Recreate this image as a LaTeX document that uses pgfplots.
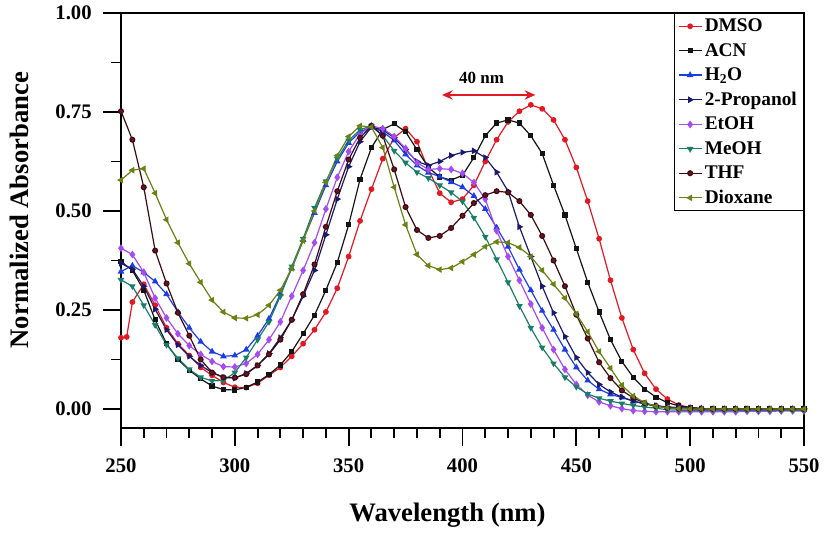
\documentclass[border=0pt]{standalone}
\usepackage{fontspec}
\setmainfont{Liberation Serif}
\usepackage{pgfplots}
\pgfplotsset{compat=1.18}
\usetikzlibrary{arrows.meta}
\definecolor{cDMSO}{RGB}{225,25,35}
\definecolor{cACN}{RGB}{20,20,20}
\definecolor{cH2O}{RGB}{30,60,230}
\definecolor{cPro}{RGB}{25,25,110}
\definecolor{cEtOH}{RGB}{165,75,240}
\definecolor{cMeOH}{RGB}{25,125,105}
\definecolor{cTHF}{RGB}{60,10,18}
\definecolor{cTHFm}{RGB}{110,20,30}
\definecolor{cDiox}{RGB}{105,130,20}
\begin{document}
\begin{tikzpicture}
\begin{axis}[
 scale only axis, width=512.25pt, height=311.25pt,
 xmin=250, xmax=550, ymin=-0.048, ymax=1.0,
 xtick={250,300,...,550}, ytick={0,0.25,0.5,0.75,1},
 minor x tick num=4, minor y tick num=1,
 xtick pos=left, ytick pos=left,
 tick align=outside,
 major tick length=13.5pt, minor tick length=7.5pt,
 tick style={black, line width=1.4pt},
 axis line style={line width=1.2pt},
 /pgf/number format/assume math mode=true,
 ticklabel style={font=\bfseries\fontsize{15.5}{18}\selectfont},
 xticklabel shift=6pt, yticklabel shift=5pt,
 yticklabel style={/pgf/number format/fixed, /pgf/number format/fixed zerofill, /pgf/number format/precision=2},
 xticklabel style={/pgf/number format/1000 sep={}},
 xlabel={Wavelength (nm)}, ylabel={Normalized Absorbance},
 label style={font=\bfseries\fontsize{20}{24}\selectfont},
 xlabel style={at={(axis description cs:0.478,-0.2096)}, anchor=center},
 ylabel style={at={(axis description cs:-0.1493,0.525)}, anchor=center},
 legend style={at={(1,1)}, anchor=north east, draw=black, line width=0.8pt,
   font=\bfseries\fontsize{14.5}{17}\selectfont, legend cell align=left, row sep=3.2pt},
 every axis plot/.append style={line width=0.9pt},
]
\addplot[color=cDMSO, mark=*, mark size=1.7pt, mark options={solid}] coordinates {
(250,0.18)(252.5,0.182)(255,0.27)(260,0.315)(265,0.262)(270,0.205)(275,0.165)(280,0.135)(285,0.105)(290,0.085)(295,0.067)(300,0.055)(305,0.054)(310,0.065)(315,0.085)(320,0.105)(325,0.133)(330,0.165)(335,0.20)(340,0.245)(345,0.305)(350,0.385)(355,0.475)(360,0.555)(365,0.632)(370,0.685)(375,0.708)(380,0.675)(385,0.605)(390,0.545)(395,0.522)(400,0.53)(405,0.565)(410,0.625)(415,0.68)(420,0.725)(425,0.752)(430,0.768)(435,0.758)(440,0.73)(445,0.68)(450,0.61)(455,0.525)(460,0.43)(465,0.325)(470,0.23)(475,0.15)(480,0.09)(485,0.05)(490,0.025)(495,0.01)(500,0.004)(505,0.001)(510,0)(515,0)(520,0)(525,0)(530,0)(535,0)(540,0)(545,0)(550,0)};
\addlegendentry{DMSO}
\addplot[color=cACN, mark=square*, mark size=1.5pt, mark options={solid}] coordinates {
(250,0.372)(255,0.35)(260,0.30)(265,0.225)(270,0.165)(275,0.125)(280,0.098)(285,0.076)(290,0.058)(295,0.049)(300,0.048)(305,0.055)(310,0.068)(315,0.087)(320,0.111)(325,0.145)(330,0.19)(335,0.237)(340,0.30)(345,0.37)(350,0.465)(355,0.58)(360,0.66)(365,0.706)(370,0.72)(375,0.70)(380,0.655)(385,0.61)(390,0.586)(395,0.578)(400,0.59)(405,0.635)(410,0.69)(415,0.722)(420,0.73)(425,0.722)(430,0.69)(435,0.645)(440,0.565)(445,0.49)(450,0.405)(455,0.32)(460,0.245)(465,0.175)(470,0.12)(475,0.08)(480,0.05)(485,0.03)(490,0.016)(495,0.008)(500,0.004)(505,0.001)(510,0)(515,0)(520,0)(525,0)(530,0)(535,0)(540,0)(545,0)(550,0)};
\addlegendentry{ACN}
\addplot[color=cH2O, mark=triangle*, mark size=2pt, mark options={solid}] coordinates {
(250,0.347)(255,0.362)(260,0.345)(265,0.322)(270,0.29)(275,0.245)(280,0.205)(285,0.17)(290,0.145)(295,0.133)(300,0.135)(305,0.15)(310,0.185)(315,0.228)(320,0.29)(325,0.355)(330,0.427)(335,0.495)(340,0.565)(345,0.625)(350,0.672)(355,0.70)(360,0.712)(365,0.70)(370,0.678)(375,0.643)(380,0.615)(385,0.597)(390,0.587)(395,0.573)(400,0.56)(405,0.538)(410,0.505)(415,0.458)(420,0.41)(425,0.352)(430,0.30)(435,0.248)(440,0.2)(445,0.15)(450,0.105)(455,0.072)(460,0.05)(465,0.037)(470,0.029)(475,0.02)(480,0.013)(485,0.008)(490,0.005)(495,0.003)(500,0.002)(505,0.001)(510,0)(515,0)(520,0)(525,0)(530,0)(535,0)(540,0)(545,0)(550,0)};
\addlegendentry{H\textsubscript{2}O}
\addplot[color=cPro, mark=triangle*, mark size=2pt, mark options={solid,rotate=-90}] coordinates {
(250,0.368)(255,0.353)(260,0.31)(265,0.252)(270,0.2)(275,0.162)(280,0.133)(285,0.11)(290,0.092)(295,0.08)(300,0.078)(305,0.09)(310,0.11)(315,0.14)(320,0.18)(325,0.225)(330,0.285)(335,0.35)(340,0.44)(345,0.53)(350,0.612)(355,0.675)(360,0.712)(365,0.705)(370,0.685)(375,0.655)(380,0.625)(385,0.615)(390,0.625)(395,0.64)(400,0.648)(405,0.652)(410,0.635)(415,0.598)(420,0.55)(425,0.46)(430,0.385)(435,0.31)(440,0.243)(445,0.183)(450,0.13)(455,0.092)(460,0.062)(465,0.043)(470,0.03)(475,0.02)(480,0.013)(485,0.008)(490,0.005)(495,0.003)(500,0.002)(505,0.001)(510,0)(515,0)(520,0)(525,0)(530,0)(535,0)(540,0)(545,0)(550,0)};
\addlegendentry{2-Propanol}
\addplot[color=cEtOH, mark=diamond*, mark size=2.2pt, mark options={solid}] coordinates {
(250,0.406)(255,0.39)(260,0.345)(265,0.28)(270,0.23)(275,0.19)(280,0.16)(285,0.138)(290,0.12)(295,0.107)(300,0.106)(305,0.115)(310,0.138)(315,0.175)(320,0.22)(325,0.285)(330,0.35)(335,0.42)(340,0.505)(345,0.585)(350,0.65)(355,0.695)(360,0.715)(365,0.708)(370,0.688)(375,0.658)(380,0.622)(385,0.605)(390,0.607)(395,0.605)(400,0.595)(405,0.572)(410,0.53)(415,0.45)(420,0.385)(425,0.325)(430,0.265)(435,0.205)(440,0.15)(445,0.1)(450,0.062)(455,0.035)(460,0.018)(465,0.008)(470,0.001)(475,-0.004)(480,-0.006)(485,-0.007)(490,-0.007)(495,-0.007)(500,-0.007)(505,-0.007)(510,-0.007)(515,-0.007)(520,-0.007)(525,-0.006)(530,-0.006)(535,-0.006)(540,-0.005)(545,-0.005)(550,-0.005)};
\addlegendentry{EtOH}
\addplot[color=cMeOH, mark=triangle*, mark size=2pt, mark options={solid,rotate=180}] coordinates {
(250,0.326)(255,0.31)(260,0.262)(265,0.212)(270,0.162)(275,0.128)(280,0.1)(285,0.08)(290,0.071)(295,0.072)(300,0.092)(305,0.13)(310,0.175)(315,0.22)(320,0.285)(325,0.36)(330,0.43)(335,0.508)(340,0.575)(345,0.632)(350,0.678)(355,0.705)(360,0.715)(365,0.69)(370,0.652)(375,0.622)(380,0.598)(385,0.583)(390,0.565)(395,0.547)(400,0.524)(405,0.483)(410,0.435)(415,0.378)(420,0.32)(425,0.26)(430,0.205)(435,0.155)(440,0.115)(445,0.08)(450,0.056)(455,0.038)(460,0.027)(465,0.02)(470,0.014)(475,0.009)(480,0.005)(485,0.002)(490,-0.002)(495,-0.003)(500,-0.003)(505,-0.003)(510,-0.003)(515,-0.003)(520,-0.003)(525,-0.003)(530,-0.003)(535,-0.003)(540,-0.003)(545,-0.003)(550,-0.003)};
\addlegendentry{MeOH}
\addplot[color=cTHF, mark=*, mark size=1.8pt, mark options={solid,fill=cTHFm}] coordinates {
(250,0.752)(255,0.68)(260,0.56)(265,0.40)(270,0.317)(275,0.243)(280,0.185)(285,0.125)(290,0.092)(295,0.08)(300,0.079)(305,0.088)(310,0.11)(315,0.138)(320,0.175)(325,0.225)(330,0.29)(335,0.365)(340,0.46)(345,0.55)(350,0.63)(355,0.685)(360,0.715)(365,0.69)(370,0.605)(375,0.51)(380,0.452)(385,0.432)(390,0.437)(395,0.457)(400,0.488)(405,0.52)(410,0.54)(415,0.55)(420,0.547)(425,0.525)(430,0.49)(435,0.437)(440,0.375)(445,0.31)(450,0.238)(455,0.178)(460,0.118)(465,0.078)(470,0.047)(475,0.028)(480,0.015)(485,0.007)(490,0.003)(495,0.001)(500,0)(505,0)(510,0)(515,0)(520,0)(525,0)(530,0)(535,0)(540,0)(545,0)(550,0)};
\addlegendentry{THF}
\addplot[color=cDiox, mark=triangle*, mark size=2pt, mark options={solid,rotate=90}] coordinates {
(250,0.578)(255,0.603)(260,0.607)(265,0.545)(270,0.478)(275,0.42)(280,0.367)(285,0.32)(290,0.275)(295,0.245)(300,0.23)(305,0.229)(310,0.238)(315,0.262)(320,0.30)(325,0.355)(330,0.425)(335,0.50)(340,0.572)(345,0.64)(350,0.688)(355,0.715)(360,0.712)(365,0.66)(370,0.56)(375,0.465)(380,0.39)(385,0.362)(390,0.352)(395,0.356)(400,0.372)(405,0.39)(410,0.41)(415,0.422)(420,0.42)(425,0.408)(430,0.385)(435,0.35)(440,0.315)(445,0.28)(450,0.24)(455,0.195)(460,0.145)(465,0.103)(470,0.06)(475,0.033)(480,0.016)(485,0.007)(490,0.003)(495,0.001)(500,0)(505,0)(510,0)(515,0)(520,0)(525,0)(530,0)(535,0)(540,0)(545,0)(550,0)};
\addlegendentry{Dioxane}
\draw[cDMSO, line width=1.5pt, {Stealth[length=8pt,width=7pt]}-{Stealth[length=8pt,width=7pt]}] (axis cs:391,0.793) -- (axis cs:432,0.793);
\node[font=\bfseries\fontsize{12.75}{15}\selectfont] at (axis cs:408.4,0.836) {40 nm};
\end{axis}
\pgfresetboundingbox
\path[use as bounding box] (-90.75pt,-80.25pt) rectangle (528pt,321pt);
\end{tikzpicture}
\end{document}
